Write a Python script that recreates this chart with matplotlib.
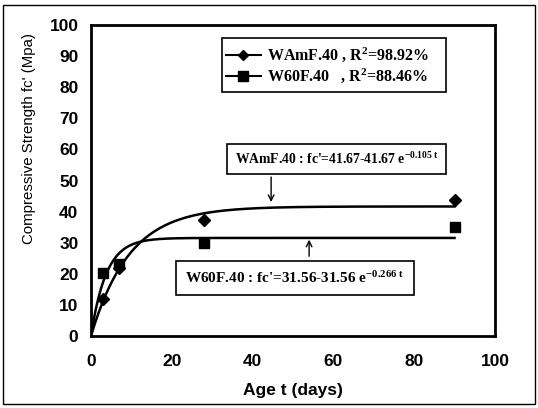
import numpy as np
import matplotlib
matplotlib.use('Agg')
import matplotlib.pyplot as plt
from matplotlib.patches import Rectangle
from matplotlib.lines import Line2D

plt.rcParams['font.family'] = 'Liberation Sans'
plt.rcParams['mathtext.fontset'] = 'custom'
plt.rcParams['mathtext.rm'] = 'Liberation Serif:bold'
plt.rcParams['mathtext.it'] = 'Liberation Serif:bold'

# test ages (days) and measured strengths (MPa)
age = [3, 7, 28, 90]
wamf = [12, 22, 37.3, 43.7]
w60f = [20.3, 23.3, 30, 35]

# fitted model fc' = a - a*exp(-k t)
fit_a = {'WAmF.40': 41.67, 'W60F.40': 31.56}
fit_k = {'WAmF.40': 0.105, 'W60F.40': 0.266}
r2 = {'WAmF.40': '98.92%', 'W60F.40': '88.46%'}

fig = plt.figure(figsize=(5.38, 4.08), dpi=100)
ax = fig.add_axes([0.169, 0.176, 0.751, 0.763])

t = np.linspace(0, 90, 300)
for name in ['WAmF.40', 'W60F.40']:
    a, k = fit_a[name], fit_k[name]
    ax.plot(t, a - a * np.exp(-k * t), color='black', lw=1.8)

ax.plot(age, wamf, 'D', color='black', ms=6, ls='none')
ax.plot(age, w60f, 's', color='black', ms=7, ls='none')

ax.set_xlim(0, 100)
ax.set_ylim(0, 100)
ax.set_xticks(range(0, 101, 20))
ax.set_yticks(range(0, 101, 10))
ax.tick_params(length=0, labelsize=12.5)
ax.tick_params(axis='y', pad=9)
ax.tick_params(axis='x', pad=13)
for lab in ax.get_xticklabels() + ax.get_yticklabels():
    lab.set_fontweight('bold')
for s in ax.spines.values():
    s.set_linewidth(2)

ax.set_xlabel('Age t (days)', fontsize=12.5, fontweight='bold', labelpad=10)
ax.set_ylabel("Compressive Strength fc' (Mpa)", fontsize=10.8, labelpad=10)
ax.yaxis.set_label_coords(-0.135, 0.635)

# legend box
ax.add_patch(Rectangle((32.4, 78.5), 55.5, 17.4, transform=ax.transData,
                       fill=False, lw=1.2, color='black', zorder=5))
handles = [Line2D([], [], color='black', marker='D', ms=5, lw=1.5),
           Line2D([], [], color='black', marker='s', ms=7, lw=1.5)]
labels = ['WAmF.40 , R$^{2}$=' + r2['WAmF.40'],
          'W60F.40   , R$^{2}$=' + r2['W60F.40']]
ax.legend(handles, labels, loc='upper left', bbox_to_anchor=(0.318, 0.953),
          frameon=False, handlelength=2.2, handletextpad=0.4, labelspacing=0.15,
          borderaxespad=0, prop={'family': 'Liberation Serif', 'weight': 'bold', 'size': 11.5})

# fitted equation boxes with arrows
ax.text(35.6, 56.9, "WAmF.40 : fc'=41.67-41.67 e$^{-0.105\\ t}$", fontsize=9.8,
        family='Liberation Serif', fontweight='bold', va='center',
        bbox=dict(boxstyle='square,pad=0.55', fc='white', ec='black', lw=1.2))
ax.text(23.3, 18.8, "W60F.40 : fc'=31.56-31.56 e$^{-0.266\\ t}$", fontsize=11,
        family='Liberation Serif', fontweight='bold', va='center',
        bbox=dict(boxstyle='square,pad=0.6', fc='white', ec='black', lw=1.2))
ax.annotate('', xy=(44.6, 42.2), xytext=(44.6, 52.0),
            arrowprops=dict(arrowstyle='->', color='black', lw=1))
ax.annotate('', xy=(54, 31.9), xytext=(54, 24.8),
            arrowprops=dict(arrowstyle='->', color='black', lw=1))

fig.patches.append(Rectangle((0.006, 0.01), 0.988, 0.978, transform=fig.transFigure,
                             fill=False, lw=1, color='black'))

fig.savefig('out.png', dpi=100)
